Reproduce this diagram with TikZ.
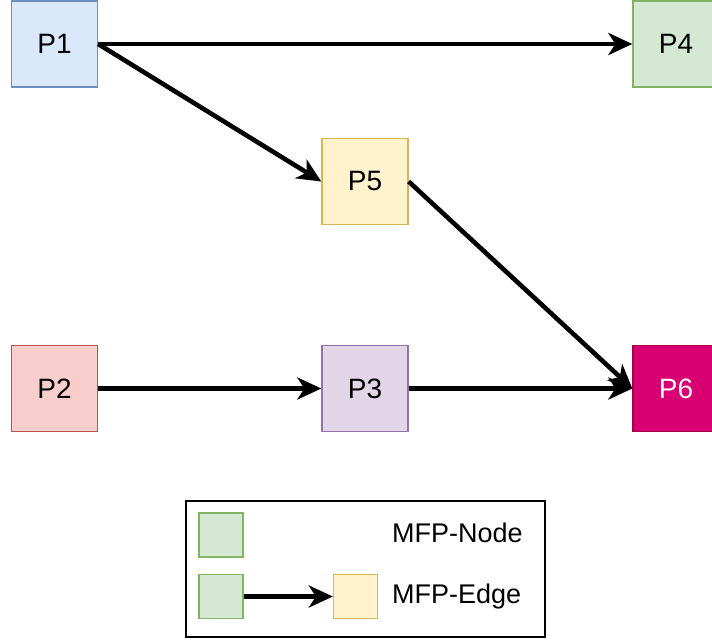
\documentclass[tikz,border=0pt]{standalone}
\usepackage{fontspec}
\setmainfont{Liberation Sans}
\usetikzlibrary{arrows.meta}
\definecolor{bluef}{HTML}{DAE8FC}\definecolor{blued}{HTML}{6C8EBF}
\definecolor{greenf}{HTML}{D5E8D4}\definecolor{greend}{HTML}{82B366}
\definecolor{yelf}{HTML}{FFF2CC}\definecolor{yeld}{HTML}{D6B656}
\definecolor{redf}{HTML}{F8CECC}\definecolor{redd}{HTML}{B85450}
\definecolor{purf}{HTML}{E1D5E7}\definecolor{purd}{HTML}{9673A6}
\definecolor{magf}{HTML}{D80073}\definecolor{magd}{HTML}{A50040}
\tikzset{
  pnode/.style={draw, line width=1.3pt, minimum width=86pt, minimum height=86pt, inner sep=0pt, font=\fontsize{28}{34}\selectfont},
  lnode/.style={draw, line width=1.3pt, minimum width=44pt, minimum height=44pt, inner sep=0pt},
  flow/.style={line width=4.6pt, -{Stealth[length=24pt,width=22pt,inset=7pt]}},
  ltext/.style={anchor=west, inner sep=0pt, font=\fontsize{27}{32}\selectfont}
}
\begin{document}
\begin{tikzpicture}[x=1pt,y=-1pt]
\useasboundingbox (0,0) rectangle (712,640);
\node[pnode, fill=bluef, draw=blued] (p1) at (54.5,44) {P1};
\node[pnode, fill=greenf, draw=greend] (p4) at (676,44) {P4};
\node[pnode, fill=yelf, draw=yeld] (p5) at (365,181.5) {P5};
\node[pnode, fill=redf, draw=redd] (p2) at (54.5,388.5) {P2};
\node[pnode, fill=purf, draw=purd] (p3) at (365,388.5) {P3};
\node[pnode, fill=magf, draw=magd, text=white] (p6) at (676,388.5) {P6};
\draw[flow] (p1.east) -- (p4.west);
\draw[flow] (p1.east) -- (p5.west);
\draw[flow] (p5.east) -- (p6.west);
\draw[flow] (p2.east) -- (p3.west);
\draw[flow] (p3.east) -- (p6.west);
% legend
\node[draw, line width=1.3pt, minimum width=359pt, minimum height=136pt, inner sep=0pt] (leg) at (365.5,569) {};
\node[lnode, fill=greenf, draw=greend] (l1) at (221,535) {};
\node[lnode, fill=greenf, draw=greend] (l2) at (221,596.5) {};
\node[lnode, fill=yelf, draw=yeld] (l3) at (355.5,596.5) {};
\draw[flow] (l2.east) -- (l3.west);
\node[ltext] (t1) at (392,533) {MFP-Node};
\node[ltext] (t2) at (392,597) {MFP-Edge};
\end{tikzpicture}
\end{document}
